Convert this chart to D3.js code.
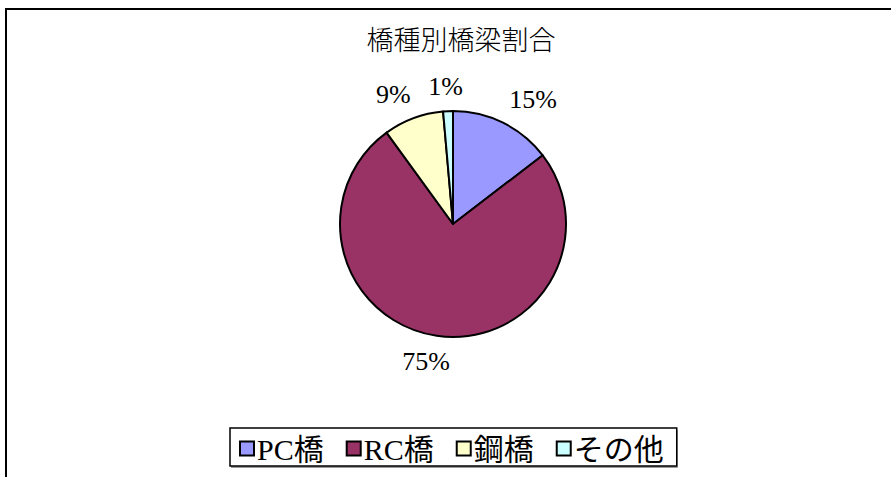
<!DOCTYPE html>
<html><head><meta charset="utf-8">
<script src="https://cdn.jsdelivr.net/npm/d3@7"></script>
<style>
html,body{margin:0;padding:0;background:#fff;}
svg{display:block;}
</style>
</head><body>
<script>
const title = "橋種別橋梁割合";
const categories = ["PC橋", "RC橋", "鋼橋", "その他"];
const values = [14.6, 75.4, 8.6, 1.4];
const colors = ["#9999FF", "#993366", "#FFFFCC", "#CCFFFF"];

const W = 891, H = 477;
const svg = d3.select("body").append("svg").attr("width", W).attr("height", H);

// chart area border (extends beyond right/bottom)
svg.append("rect").attr("x", 6).attr("y", 9).attr("width", W + 20).attr("height", H + 20)
  .attr("fill", "#fff").attr("stroke", "#000").attr("stroke-width", 2);

const cx = 453, cy = 224, r = 113;
const serif = "'Liberation Serif','Noto Sans CJK JP',serif";

svg.append("text").attr("x", 461).attr("y", 50).attr("text-anchor", "middle")
  .attr("font-family", "'Noto Sans CJK JP',sans-serif").attr("font-size", 27)
  .attr("font-weight", 300)
  .attr("fill", "#000").text(title);

const total = d3.sum(values);
const pie = d3.pie().sort(null).value(d => d)(values);
const arc = d3.arc().innerRadius(0).outerRadius(r);
const g = svg.append("g").attr("transform", `translate(${cx},${cy})`);
g.selectAll("path").data(pie).join("path")
  .attr("d", arc).attr("fill", (d, i) => colors[i])
  .attr("stroke", "#000").attr("stroke-width", 2).attr("stroke-linejoin", "round");

// labels placed outside, Excel-like
const lr = 127;
const clamp = t => Math.max(-1, Math.min(1, t));
pie.forEach((d, i) => {
  const a = (d.startAngle + d.endAngle) / 2;
  const t = g.append("text").attr("font-family", serif).attr("font-size", 26)
    .attr("fill", "#000").attr("text-anchor", "middle")
    .text(Math.round(values[i] / total * 100) + "%");
  const w = t.node().getComputedTextLength(), h = 22;
  const px = lr * Math.sin(a) + clamp(Math.sin(a) * 2.5) * w / 2;
  const py = -lr * Math.cos(a) - clamp(Math.cos(a) * 2.5) * h / 2;
  t.attr("x", px).attr("y", py + 9);
});

// legend
const lg = svg.append("g");
let x = 0;
categories.forEach((c, i) => {
  const it = lg.append("g");
  it.append("rect").attr("x", x + 1).attr("y", -0.5).attr("width", 14).attr("height", 14)
    .attr("fill", colors[i]).attr("stroke", "#000").attr("stroke-width", 2);
  const t = it.append("text").attr("x", x + 18).attr("y", 18)
    .attr("font-family", serif).attr("font-size", 30).attr("fill", "#000").text(c);
  const tw = t.node().getComputedTextLength();
  x += 18 + tw + (i < categories.length - 1 ? 22 : 0);
});
const contentW = x;
const boxW = contentW + 22;
const boxX = Math.round(cx - boxW / 2 + 0.5), boxY = 428, boxH = 38;
svg.insert("rect", "g:last-child").attr("x", boxX + 1).attr("y", boxY + 2).attr("width", boxW).attr("height", boxH)
  .attr("fill", "#999");
svg.insert("rect", "g:last-child").attr("x", boxX).attr("y", boxY).attr("width", boxW).attr("height", boxH)
  .attr("fill", "#fff").attr("stroke", "#000").attr("stroke-width", 1.5);
lg.attr("transform", `translate(${boxX + 9},${boxY + 14})`);
</script>
</body></html>
